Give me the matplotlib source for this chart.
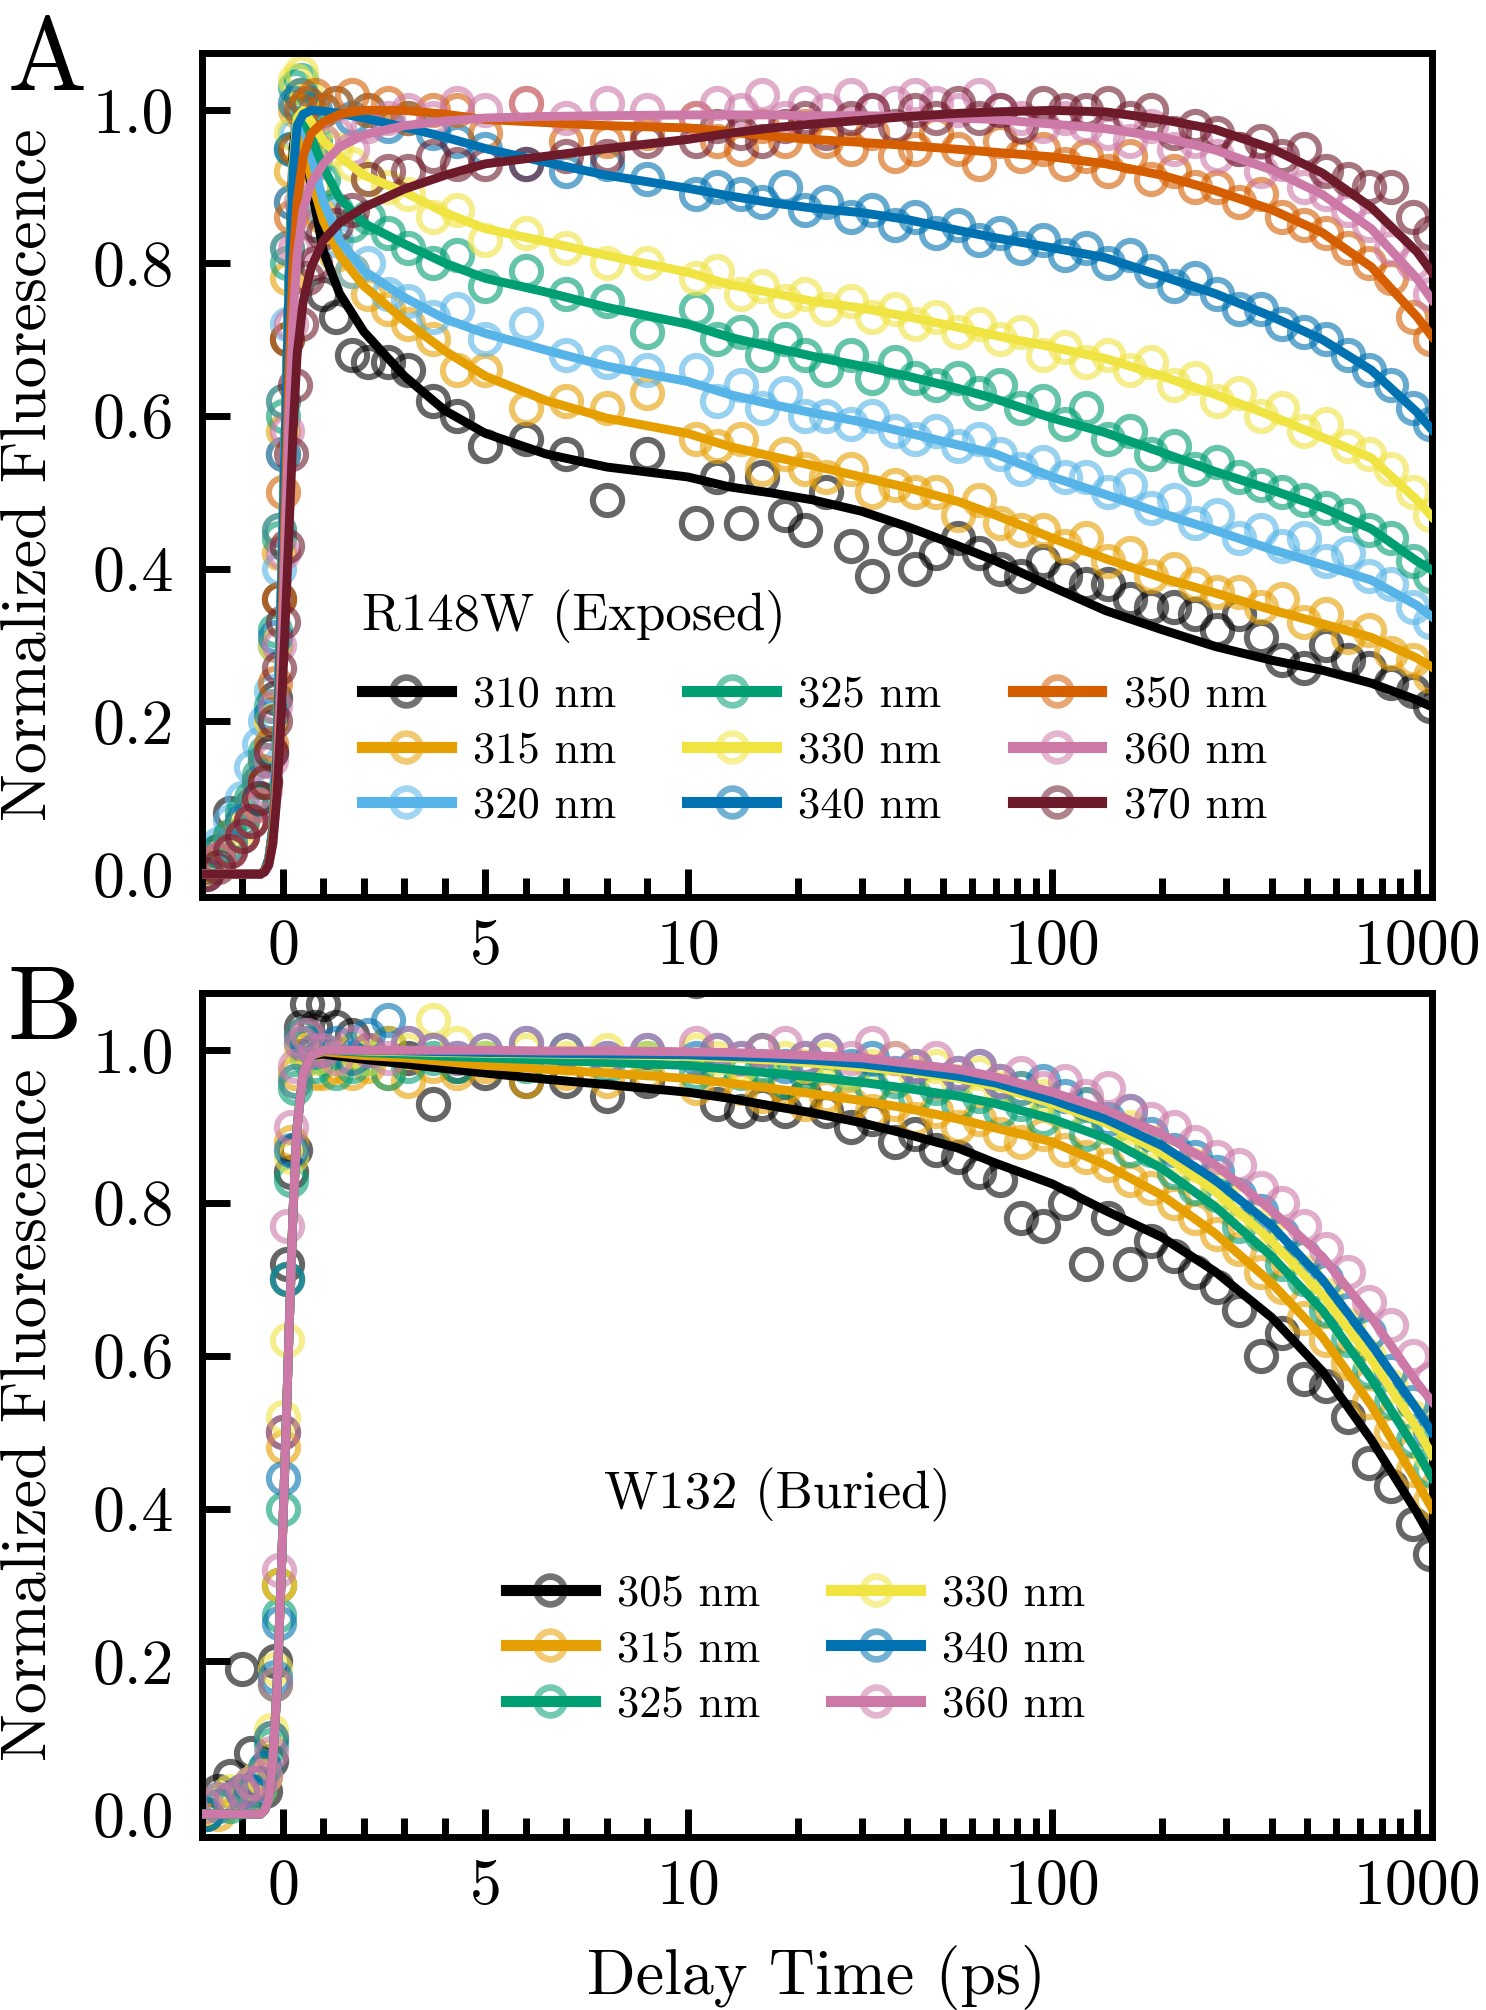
import matplotlib
matplotlib.use("Agg")
import matplotlib.pyplot as plt
from matplotlib.lines import Line2D
from matplotlib.colors import to_rgba

plt.rcParams['font.family'] = 'serif'
plt.rcParams['font.serif'] = ['cmr10']
plt.rcParams['mathtext.fontset'] = 'cm'
plt.rcParams['axes.unicode_minus'] = False

# measured delay times (ps) and fit grid
t_data = [-1.9, -1.6, -1.3, -1.0, -0.8, -0.6, -0.45, -0.3, -0.2, -0.1, 0.0, 0.1, 0.2, 0.3, 0.45, 0.6, 0.8,
          1.0, 1.3, 1.7, 2.1, 2.6, 3.1, 3.7, 4.3, 5.0, 6.0, 7.0, 8.0, 9.0,
          10.5, 12, 14, 16, 18.5, 21, 24, 28, 32, 37, 42, 48, 55, 63, 72, 82, 94,
          108, 124, 142, 163, 187, 215, 247, 283, 325, 373, 428, 491, 563, 646, 741, 850, 975, 1090]
t_fit = [-2.0, -0.55, -0.45, -0.35, -0.25, -0.15, -0.05, 0.05, 0.15, 0.25, 0.35, 0.5, 0.7,
         1.0, 1.4, 2.0, 3.0, 4.0, 5.0, 6.5, 8.0, 10, 13, 17, 22, 30, 40, 55, 70,
         100, 140, 200, 280, 400, 550, 750, 1000, 1100]

# ---- panel A : R148W (exposed) ----
labels_a = ['310 nm', '315 nm', '320 nm', '325 nm', '330 nm', '340 nm', '350 nm', '360 nm', '370 nm']
colors_a = ['#000000', '#E69F00', '#56B4E9', '#009E73', '#F0E442', '#0072B2', '#D55E00', '#CC79A7', '#6d1a2a']

a310 = [0.0, 0.03, 0.08, 0.05, 0.07, 0.10, 0.12, 0.16, 0.23, 0.36, 0.55, 0.70, 0.88, 0.95, 1.00, 0.96, 0.85,
        0.76, 0.73, 0.68, 0.67, 0.67, 0.66, 0.62, 0.60, 0.56, 0.57, 0.55, 0.49, 0.55,
        0.46, 0.52, 0.46, 0.52, 0.47, 0.45, 0.50, 0.43, 0.39, 0.44, 0.40, 0.42, 0.44, 0.42, 0.40, 0.39, 0.41,
        0.39, 0.38, 0.38, 0.36, 0.35, 0.35, 0.34, 0.32, 0.34, 0.31, 0.28, 0.27, 0.30, 0.28, 0.27, 0.25, 0.24, 0.22]
a315 = [0.01, 0.02, 0.05, 0.07, 0.09, 0.12, 0.15, 0.20, 0.30, 0.42, 0.58, 0.78, 0.92, 1.00, 1.02, 0.97, 0.90,
        0.86, 0.81, 0.79, 0.76, 0.74, 0.72, 0.70, 0.66, 0.66, 0.61, 0.62, 0.61, 0.63,
        0.57, 0.56, 0.57, 0.53, 0.55, 0.53, 0.52, 0.53, 0.50, 0.51, 0.50, 0.50, 0.47, 0.49, 0.46, 0.45, 0.45,
        0.43, 0.44, 0.41, 0.42, 0.39, 0.40, 0.38, 0.37, 0.37, 0.35, 0.36, 0.33, 0.34, 0.31, 0.32, 0.29, 0.28, 0.26]
a320 = [0.02, 0.04, 0.07, 0.10, 0.14, 0.17, 0.20, 0.24, 0.30, 0.40, 0.55, 0.72, 0.88, 0.97, 1.00, 0.98, 0.93,
        0.87, 0.83, 0.79, 0.80, 0.76, 0.75, 0.73, 0.74, 0.70, 0.72, 0.68, 0.67, 0.66,
        0.66, 0.62, 0.64, 0.61, 0.63, 0.60, 0.60, 0.59, 0.60, 0.58, 0.57, 0.58, 0.56, 0.57, 0.55, 0.53, 0.54,
        0.52, 0.52, 0.50, 0.51, 0.48, 0.49, 0.46, 0.47, 0.44, 0.45, 0.43, 0.44, 0.41, 0.42, 0.39, 0.38, 0.35, 0.33]
a325 = [0.01, 0.03, 0.05, 0.08, 0.10, 0.13, 0.16, 0.22, 0.32, 0.44, 0.60, 0.80, 0.95, 1.03, 1.04, 1.00, 0.96,
        0.91, 0.87, 0.85, 0.86, 0.84, 0.82, 0.80, 0.81, 0.77, 0.79, 0.76, 0.75, 0.71,
        0.74, 0.70, 0.71, 0.68, 0.70, 0.68, 0.66, 0.68, 0.65, 0.67, 0.65, 0.64, 0.65, 0.63, 0.64, 0.61, 0.62,
        0.59, 0.61, 0.57, 0.58, 0.55, 0.56, 0.53, 0.54, 0.52, 0.51, 0.50, 0.49, 0.48, 0.47, 0.45, 0.44, 0.41, 0.39]
a330 = [0.01, 0.02, 0.04, 0.06, 0.09, 0.12, 0.15, 0.20, 0.30, 0.45, 0.62, 0.82, 0.97, 1.04, 1.05, 1.02, 0.99,
        0.96, 0.95, 0.93, 0.91, 0.90, 0.89, 0.86, 0.87, 0.83, 0.84, 0.82, 0.80, 0.80,
        0.78, 0.79, 0.76, 0.77, 0.75, 0.76, 0.74, 0.75, 0.73, 0.74, 0.72, 0.73, 0.71, 0.72, 0.70, 0.71, 0.68,
        0.69, 0.67, 0.68, 0.66, 0.67, 0.64, 0.65, 0.62, 0.63, 0.60, 0.61, 0.58, 0.59, 0.56, 0.55, 0.53, 0.50, 0.47]
a340 = [0.01, 0.02, 0.04, 0.07, 0.09, 0.12, 0.15, 0.21, 0.31, 0.45, 0.62, 0.82, 0.95, 1.01, 1.02, 1.01, 1.00,
        1.00, 1.01, 0.99, 1.00, 0.98, 0.99, 0.97, 0.96, 0.95, 0.93, 0.92, 0.93, 0.91,
        0.89, 0.90, 0.89, 0.88, 0.90, 0.87, 0.88, 0.86, 0.87, 0.85, 0.86, 0.84, 0.85, 0.83, 0.84, 0.82, 0.83,
        0.81, 0.82, 0.80, 0.81, 0.79, 0.77, 0.78, 0.76, 0.74, 0.74, 0.72, 0.71, 0.70, 0.68, 0.66, 0.64, 0.61, 0.59]
a350 = [0.01, 0.02, 0.03, 0.05, 0.07, 0.09, 0.12, 0.17, 0.25, 0.36, 0.50, 0.70, 0.86, 0.95, 1.00, 1.01, 1.02,
        1.00, 1.01, 1.02, 1.00, 1.01, 0.99, 1.00, 1.00, 0.97, 1.01, 0.96, 0.96, 0.97,
        0.99, 0.96, 0.95, 0.98, 0.96, 0.98, 0.96, 0.95, 0.97, 0.94, 0.95, 0.97, 0.95, 0.93, 0.96, 0.94, 0.95,
        0.93, 0.94, 0.92, 0.94, 0.91, 0.92, 0.90, 0.90, 0.88, 0.89, 0.86, 0.85, 0.84, 0.82, 0.80, 0.78, 0.73, 0.70]
a360 = [0.0, 0.02, 0.03, 0.05, 0.07, 0.09, 0.11, 0.15, 0.22, 0.30, 0.42, 0.58, 0.72, 0.82, 0.88, 0.92, 0.95,
        0.96, 0.97, 0.95, 0.98, 0.99, 1.00, 0.99, 1.01, 1.00, 1.01, 0.99, 1.01, 1.00,
        0.99, 1.01, 1.00, 1.02, 0.99, 1.01, 1.00, 1.02, 1.00, 1.01, 1.02, 1.01, 1.00, 1.02, 1.00, 0.99, 0.98,
        0.99, 0.98, 0.97, 0.96, 0.98, 0.95, 0.96, 0.94, 0.95, 0.92, 0.93, 0.90, 0.89, 0.87, 0.85, 0.82, 0.80, 0.76]
a370 = [0.0, 0.01, 0.03, 0.05, 0.07, 0.10, 0.12, 0.16, 0.20, 0.27, 0.33, 0.43, 0.55, 0.64, 0.72, 0.78, 0.80,
        0.84, 0.85, 0.87, 0.91, 0.92, 0.92, 0.94, 0.93, 0.93, 0.93, 0.94, 0.94, 0.96,
        0.96, 0.98, 0.97, 0.96, 0.98, 0.99, 0.97, 0.99, 1.00, 0.98, 1.00, 0.99, 1.01, 0.99, 1.00, 0.98, 1.01,
        1.00, 1.00, 1.01, 0.99, 1.00, 0.97, 0.98, 0.97, 0.95, 0.96, 0.94, 0.95, 0.92, 0.91, 0.90, 0.90, 0.86, 0.84]

f310 = [0, 0, 0.005, 0.02, 0.06, 0.16, 0.35, 0.56, 0.78, 0.95, 0.985, 0.965, 0.90,
        0.815, 0.76, 0.71, 0.652, 0.607, 0.577, 0.55, 0.533, 0.52, 0.507, 0.499, 0.49, 0.475, 0.455, 0.43, 0.41,
        0.376, 0.345, 0.32, 0.298, 0.28, 0.267, 0.25, 0.228, 0.219]
f315 = [0, 0, 0.005, 0.02, 0.06, 0.16, 0.35, 0.56, 0.77, 0.93, 0.985, 0.955, 0.91,
        0.855, 0.81, 0.77, 0.725, 0.685, 0.652, 0.62, 0.597, 0.577, 0.56, 0.547, 0.535, 0.52, 0.506, 0.488, 0.47,
        0.44, 0.413, 0.388, 0.368, 0.346, 0.328, 0.31, 0.283, 0.271]
f320 = [0, 0, 0.005, 0.02, 0.06, 0.16, 0.35, 0.56, 0.77, 0.93, 0.99, 0.98, 0.94,
        0.88, 0.83, 0.79, 0.755, 0.727, 0.708, 0.686, 0.665, 0.645, 0.628, 0.615, 0.604, 0.592, 0.578, 0.562, 0.55,
        0.52, 0.497, 0.472, 0.45, 0.425, 0.405, 0.385, 0.352, 0.337]
f325 = [0, 0, 0.005, 0.02, 0.06, 0.16, 0.35, 0.56, 0.77, 0.93, 0.99, 0.99, 0.965,
        0.925, 0.885, 0.852, 0.825, 0.80, 0.78, 0.762, 0.742, 0.72, 0.703, 0.69, 0.678, 0.665, 0.652, 0.636, 0.622,
        0.597, 0.578, 0.552, 0.527, 0.503, 0.48, 0.452, 0.41, 0.398]
f330 = [0, 0, 0.005, 0.02, 0.06, 0.16, 0.35, 0.56, 0.77, 0.93, 0.99, 1.0, 0.985,
        0.96, 0.94, 0.915, 0.893, 0.866, 0.845, 0.828, 0.81, 0.788, 0.772, 0.761, 0.75, 0.741, 0.73, 0.716, 0.705,
        0.69, 0.675, 0.652, 0.628, 0.60, 0.572, 0.545, 0.49, 0.468]
f340 = [0, 0, 0.005, 0.02, 0.06, 0.16, 0.35, 0.56, 0.77, 0.92, 0.98, 0.995, 1.0,
        0.999, 0.996, 0.99, 0.978, 0.965, 0.95, 0.932, 0.915, 0.898, 0.888, 0.879, 0.872, 0.866, 0.857, 0.843, 0.833,
        0.82, 0.807, 0.783, 0.76, 0.73, 0.70, 0.66, 0.605, 0.582]
f350 = [0, 0, 0.004, 0.015, 0.05, 0.13, 0.28, 0.47, 0.66, 0.80, 0.88, 0.94, 0.97,
        0.985, 0.995, 1.0, 1.0, 0.995, 0.988, 0.984, 0.98, 0.977, 0.972, 0.966, 0.962, 0.958, 0.954, 0.949, 0.945,
        0.939, 0.93, 0.915, 0.895, 0.87, 0.84, 0.795, 0.73, 0.704]
f360 = [0, 0, 0.003, 0.012, 0.04, 0.11, 0.25, 0.42, 0.60, 0.73, 0.81, 0.87, 0.905,
        0.93, 0.952, 0.968, 0.98, 0.986, 0.99, 0.992, 0.993, 0.994, 0.994, 0.994, 0.993, 0.993, 0.992, 0.99, 0.988,
        0.982, 0.976, 0.965, 0.948, 0.922, 0.89, 0.845, 0.78, 0.752]
f370 = [0, 0, 0.003, 0.012, 0.04, 0.10, 0.20, 0.32, 0.45, 0.58, 0.68, 0.75, 0.795,
        0.83, 0.853, 0.873, 0.897, 0.915, 0.93, 0.94, 0.95, 0.962, 0.97, 0.977, 0.982, 0.987, 0.992, 0.996, 0.998,
        1.0, 0.998, 0.988, 0.975, 0.95, 0.918, 0.873, 0.815, 0.788]

# ---- panel B : W132 (buried) ----
labels_b = ['305 nm', '315 nm', '325 nm', '330 nm', '340 nm', '360 nm']
colors_b = ['#000000', '#E69F00', '#009E73', '#F0E442', '#0072B2', '#CC79A7']

b305 = [0.0, 0.03, 0.05, 0.19, 0.08, 0.04, 0.03, 0.07, 0.20, 0.30, 0.50, 0.72, 0.84, 0.87, 1.03, 1.06, 1.03,
        1.06, 1.03, 1.02, 1.00, 1.01, 0.99, 0.93, 0.98, 0.97, 0.96, 0.96, 0.94, 0.96,
        1.09, 0.93, 0.92, 0.93, 0.92, 0.94, 0.92, 0.90, 0.91, 0.88, 0.89, 0.87, 0.86, 0.84, 0.83, 0.78, 0.77,
        0.80, 0.72, 0.78, 0.72, 0.75, 0.73, 0.71, 0.69, 0.66, 0.60, 0.63, 0.57, 0.56, 0.52, 0.46, 0.43, 0.38, 0.34]
b315 = [0.01, 0.0, 0.02, 0.03, 0.02, 0.03, 0.05, 0.10, 0.17, 0.30, 0.48, 0.70, 0.88, 0.97, 1.02, 1.00, 0.97,
        0.97, 0.98, 0.97, 0.98, 0.97, 0.96, 0.98, 0.97, 0.98, 0.96, 0.97, 0.96, 0.97,
        0.95, 0.96, 0.95, 0.94, 0.95, 0.93, 0.94, 0.93, 0.92, 0.93, 0.91, 0.92, 0.90, 0.91, 0.89, 0.88, 0.89,
        0.87, 0.86, 0.85, 0.83, 0.82, 0.80, 0.78, 0.76, 0.74, 0.71, 0.69, 0.65, 0.62, 0.59, 0.54, 0.50, 0.45, 0.41]
b325 = [0.0, 0.02, 0.01, 0.03, 0.04, 0.03, 0.06, 0.09, 0.17, 0.26, 0.40, 0.70, 0.83, 0.95, 1.01, 0.99, 0.98,
        0.99, 0.97, 0.98, 0.99, 0.97, 0.98, 0.99, 0.98, 0.99, 0.98, 1.00, 0.98, 0.99,
        0.97, 0.98, 0.97, 0.98, 0.96, 0.97, 0.96, 0.97, 0.95, 0.96, 0.94, 0.95, 0.93, 0.94, 0.92, 0.93, 0.91,
        0.92, 0.89, 0.90, 0.87, 0.87, 0.84, 0.82, 0.81, 0.77, 0.76, 0.72, 0.70, 0.66, 0.62, 0.58, 0.54, 0.49, 0.45]
b330 = [0.01, 0.01, 0.03, 0.02, 0.04, 0.05, 0.05, 0.11, 0.19, 0.30, 0.52, 0.62, 0.86, 0.96, 1.00, 1.01, 0.99,
        1.00, 0.99, 1.00, 0.99, 1.01, 1.00, 1.04, 1.01, 0.99, 1.00, 0.99, 1.00, 0.99,
        1.00, 0.99, 0.98, 1.00, 0.99, 0.98, 0.99, 0.97, 0.98, 0.99, 0.97, 0.98, 0.96, 0.97, 0.95, 0.95, 0.94,
        0.92, 0.93, 0.90, 0.90, 0.88, 0.86, 0.85, 0.82, 0.80, 0.77, 0.75, 0.71, 0.68, 0.64, 0.60, 0.56, 0.52, 0.47]
b340 = [0.0, 0.01, 0.02, 0.03, 0.03, 0.04, 0.06, 0.10, 0.18, 0.25, 0.44, 0.70, 0.87, 0.96, 1.02, 1.01, 1.00,
        1.00, 1.01, 0.99, 1.02, 1.04, 1.01, 1.00, 0.99, 1.00, 1.01, 1.00, 0.99, 1.00,
        0.99, 1.00, 0.99, 1.00, 0.98, 0.99, 1.00, 0.98, 0.99, 0.97, 0.98, 0.96, 0.97, 0.98, 0.96, 0.95, 0.96,
        0.94, 0.93, 0.91, 0.92, 0.89, 0.87, 0.86, 0.84, 0.81, 0.79, 0.76, 0.73, 0.70, 0.66, 0.63, 0.58, 0.54, 0.50]
b360 = [0.01, 0.02, 0.02, 0.03, 0.04, 0.04, 0.05, 0.08, 0.17, 0.32, 0.50, 0.77, 0.90, 0.98, 1.01, 1.02, 1.00,
        1.00, 0.99, 1.01, 1.00, 0.99, 1.01, 1.00, 0.99, 1.00, 1.01, 1.00, 0.99, 1.00,
        1.01, 1.00, 0.99, 1.00, 1.01, 0.99, 1.00, 0.99, 1.01, 0.99, 0.98, 0.99, 0.97, 0.98, 0.96, 0.97, 0.95,
        0.96, 0.94, 0.95, 0.92, 0.91, 0.90, 0.88, 0.86, 0.85, 0.82, 0.80, 0.77, 0.74, 0.71, 0.67, 0.64, 0.60, 0.57]

rise_b = [0, 0, 0.005, 0.02, 0.07, 0.16, 0.30, 0.46, 0.63, 0.79, 0.90, 0.97, 0.993]
g305 = rise_b + [0.995, 0.992, 0.988, 0.982, 0.976, 0.97, 0.962, 0.955, 0.945, 0.937, 0.927, 0.918, 0.905, 0.89,
                 0.872, 0.852, 0.825, 0.79, 0.755, 0.71, 0.65, 0.58, 0.49, 0.395, 0.36]
g315 = rise_b + [0.998, 0.996, 0.993, 0.99, 0.985, 0.98, 0.975, 0.97, 0.963, 0.957, 0.95, 0.943, 0.934, 0.924,
                 0.91, 0.898, 0.88, 0.85, 0.81, 0.76, 0.695, 0.625, 0.535, 0.435, 0.40]
g325 = rise_b + [1.0, 0.999, 0.997, 0.995, 0.992, 0.99, 0.987, 0.984, 0.98, 0.975, 0.97, 0.965, 0.958, 0.95,
                 0.94, 0.93, 0.91, 0.885, 0.845, 0.795, 0.73, 0.66, 0.57, 0.475, 0.44]
g330 = rise_b + [1.0, 1.0, 0.999, 0.998, 0.997, 0.996, 0.995, 0.994, 0.992, 0.99, 0.987, 0.983, 0.978, 0.972,
                 0.963, 0.953, 0.93, 0.905, 0.865, 0.815, 0.75, 0.68, 0.595, 0.505, 0.47]
g340 = rise_b + [1.0, 1.0, 1.0, 0.999, 0.998, 0.997, 0.996, 0.995, 0.994, 0.992, 0.99, 0.987, 0.982, 0.975,
                 0.966, 0.957, 0.935, 0.91, 0.875, 0.83, 0.77, 0.70, 0.615, 0.53, 0.50]
g360 = rise_b + [1.0, 1.0, 1.0, 1.0, 1.0, 1.0, 0.999, 0.999, 0.998, 0.997, 0.995, 0.993, 0.99, 0.983,
                 0.975, 0.965, 0.945, 0.922, 0.89, 0.85, 0.79, 0.73, 0.65, 0.565, 0.54]

data_a = [a310, a315, a320, a325, a330, a340, a350, a360, a370]
fit_a = [f310, f315, f320, f325, f330, f340, f350, f360, f370]
data_b = [b305, b315, b325, b330, b340, b360]
fit_b = [g305, g315, g325, g330, g340, g360]


def draw_panel(ax, data, fits, colors, labels, ncol, leg_x, leg_y):
    for y, c in zip(data, colors):
        ax.plot(t_data, y, 'o', mfc='none', mec=c, alpha=0.6, ms=10.5, mew=2.2, zorder=2)
    for f, c in zip(fits, colors):
        ax.plot(t_fit, f, color=c, lw=3.2, zorder=3)
    ax.set_xscale('symlog', linthresh=10, linscale=1)
    ax.set_xlim(-2, 1100)
    ax.set_ylim(-0.03, 1.075)
    ax.set_xticks([0, 5, 10, 100, 1000], ['0', '5', '10', '100', '1000'])
    ax.set_xticks([-1, 1, 2, 3, 4, 6, 7, 8, 9] + list(range(20, 100, 10)) + list(range(200, 1000, 100)),
                  minor=True)
    ax.set_yticks([0.0, 0.2, 0.4, 0.6, 0.8, 1.0], ['0.0', '0.2', '0.4', '0.6', '0.8', '1.0'])
    ax.tick_params(which='both', direction='in', width=2.5, top=False, right=False, labelsize=23)
    ax.tick_params(which='major', length=10)
    ax.tick_params(which='minor', length=7)
    ax.tick_params(axis='x', pad=8)
    ax.tick_params(axis='y', pad=10)
    for s in ax.spines.values():
        s.set_linewidth(2.5)
    ax.set_ylabel('Normalized Fluorescence', fontsize=23, labelpad=12)
    handles = [Line2D([], [], color=c, lw=4, marker='o', ms=10, mfc='none', mec=to_rgba(c, 0.55), mew=2.4)
               for c in colors]
    ax.legend(handles, labels, ncol=ncol, loc='center left', bbox_to_anchor=(leg_x, leg_y),
              frameon=False, fontsize=16, handlelength=2.0, handletextpad=0.5, columnspacing=1.6,
              labelspacing=0.35, borderpad=0, borderaxespad=0)


fig = plt.figure(figsize=(7.43, 10.05), dpi=200)
ax_a = fig.add_axes([0.1359, 0.5537, 0.8277, 0.4199])
ax_b = fig.add_axes([0.1359, 0.0861, 0.8277, 0.4199])

draw_panel(ax_a, data_a, fit_a, colors_a, labels_a, 3, 0.13, 0.173)
ax_a.text(0.13, 0.332, 'R148W (Exposed)', transform=ax_a.transAxes, fontsize=19, ha='left', va='center')

draw_panel(ax_b, data_b, fit_b, colors_b, labels_b, 2, 0.247, 0.2215)
ax_b.text(0.468, 0.405, 'W132 (Buried)', transform=ax_b.transAxes, fontsize=19, ha='center', va='center')
ax_b.set_xlabel('Delay Time (ps)', fontsize=23, labelpad=10)

fig.text(0.005, 0.955, 'A', fontsize=38, ha='left', va='baseline')
fig.text(0.005, 0.4836, 'B', fontsize=38, ha='left', va='baseline')

fig.savefig('out.png', dpi=200)
